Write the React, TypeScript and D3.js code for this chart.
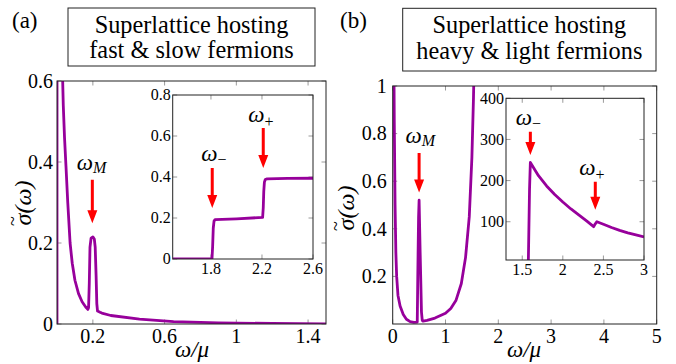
import React from "react";
import * as d3 from "d3";

// ---------- data ----------
// Panel (a) main curve
const aMainX = [0, 0.001, 0.015, 0.025, 0.03, 0.035, 0.042, 0.05, 0.06, 0.073, 0.085, 0.1, 0.12, 0.14, 0.16, 0.172, 0.176, 0.18, 0.184, 0.19, 0.2, 0.208, 0.213, 0.218, 0.222, 0.226, 0.24, 0.25, 0.3, 0.46, 0.65, 0.9, 1.2, 1.5];
const aMainY = [0, 4, 2.2, 0.9, 0.63, 0.54, 0.46, 0.39, 0.3, 0.2, 0.15, 0.108, 0.075, 0.055, 0.042, 0.036, 0.04, 0.1, 0.19, 0.212, 0.215, 0.21, 0.19, 0.12, 0.05, 0.032, 0.029, 0.027, 0.021, 0.012, 0.006, 0.003, 0.0012, 0.0005];
// Panel (a) inset curve
const aInsX = [1.5, 1.808, 1.813, 1.818, 1.824, 1.832, 2.0, 2.205, 2.21, 2.214, 2.219, 2.226, 2.24, 2.4, 2.6];
const aInsY = [0, 0, 0.06, 0.15, 0.185, 0.192, 0.196, 0.203, 0.25, 0.33, 0.375, 0.388, 0.391, 0.393, 0.394];
// Panel (b) main curve
const bMainX = [0.004, 0.02, 0.03, 0.045, 0.06, 0.075, 0.1, 0.14, 0.2, 0.26, 0.33, 0.4, 0.465, 0.475, 0.49, 0.5, 0.52, 0.545, 0.56, 0.575, 0.65, 0.8, 1.0, 1.1, 1.2, 1.3, 1.38, 1.45, 1.5, 1.53, 1.56];
const bMainY = [3, 1.2, 0.85, 0.5, 0.3, 0.2, 0.12, 0.076, 0.04, 0.02, 0.01, 0.007, 0.008, 0.2, 0.45, 0.52, 0.3, 0.05, 0.015, 0.012, 0.015, 0.025, 0.045, 0.065, 0.1, 0.17, 0.28, 0.45, 0.7, 0.95, 1.3];
// Panel (b) inset curve
const bInsX = [1.575, 1.58, 1.59, 1.6, 1.7, 1.8, 1.9, 2.0, 2.1, 2.2, 2.3, 2.38, 2.4, 2.42, 2.5, 2.6, 2.7, 2.8, 2.9, 3.0];
const bInsY = [0, 60, 180, 244, 212, 187, 166, 148, 131, 116, 101, 88, 95, 100, 94, 86, 79, 73, 68, 63];

// ticks
const aMainXTicks = [0.2, 0.6, 1, 1.4];
const aMainXLabels = ["0.2", "0.6", "1", "1.4"];
const aMainYTicks = [0, 0.2, 0.4, 0.6];
const aMainYLabels = ["0", "0.2", "0.4", "0.6"];
const aInsXTicks = [1.8, 2.2, 2.6];
const aInsXLabels = ["1.8", "2.2", "2.6"];
const aInsYTicks = [0, 0.2, 0.4, 0.6, 0.8];
const aInsYLabels = ["0", "0.2", "0.4", "0.6", "0.8"];
const bMainXTicks = [0, 1, 2, 3, 4, 5];
const bMainXLabels = ["0", "1", "2", "3", "4", "5"];
const bMainYTicks = [0.2, 0.4, 0.6, 0.8, 1];
const bMainYLabels = ["0.2", "0.4", "0.6", "0.8", "1"];
const bInsXTicks = [1.5, 2, 2.5, 3];
const bInsXLabels = ["1.5", "2", "2.5", "3"];
const bInsYTicks = [100, 200, 300, 400];
const bInsYLabels = ["100", "200", "300", "400"];

// titles
const titleA = ["Superlattice hosting", "fast & slow fermions"];
const titleB = ["Superlattice hosting", "heavy & light fermions"];

// arrows: [x, yTop, yTip] in data units
const aMainArrow = [0.197, 0.356, 0.249];
const aInsArrowMinus = [1.81, 0.444, 0.249];
const aInsArrowPlus = [2.21, 0.639, 0.444];
const bMainArrow = [0.5, 0.718, 0.552];
const bInsArrowMinus = [1.6, 319, 262];
const bInsArrowPlus = [2.4, 197, 129];

const PURPLE = "#97009b";
const FONT = "'Liberation Serif', 'Times New Roman', 'DejaVu Serif', serif";
const TICKC = "#9a9a9a";

type AxisProps = {
  id: string;
  x0: number; x1: number; y0: number; y1: number;
  xd: [number, number]; yd: [number, number];
  xs: number[]; ys: number[];
  xt: number[]; xl: string[]; yt: number[]; yl: string[];
  fs: number; xlDy: number; ylDx: number;
  bg?: boolean;
  children?: (x: d3.ScaleLinear<number, number>, y: d3.ScaleLinear<number, number>) => React.ReactNode;
};

const tf = (size: number, italic = false): React.CSSProperties => ({
  fontFamily: FONT,
  fontSize: size,
  fontStyle: italic ? "italic" : "normal",
});

function Axes(p: AxisProps) {
  const x = d3.scaleLinear().domain(p.xd).range([p.x0, p.x1]);
  const y = d3.scaleLinear().domain(p.yd).range([p.y1, p.y0]);
  const line = d3.line<number>().x((_, i) => x(p.xs[i])).y((d) => y(d));
  const tl = 4.5;
  return (
    <g>
      <defs>
        <clipPath id={p.id}>
          <rect x={p.x0} y={p.y0} width={p.x1 - p.x0} height={p.y1 - p.y0} />
        </clipPath>
      </defs>
      {p.bg && <rect x={p.x0} y={p.y0} width={p.x1 - p.x0} height={p.y1 - p.y0} fill="white" />}
      {p.xt.map((t, i) => (
        <g key={"x" + i}>
          <line x1={x(t)} x2={x(t)} y1={p.y1} y2={p.y1 - tl} stroke={TICKC} strokeWidth={1} />
          <line x1={x(t)} x2={x(t)} y1={p.y0} y2={p.y0 + tl} stroke={TICKC} strokeWidth={1} />
          <text x={x(t)} y={p.y1 + p.xlDy} style={tf(p.fs)} textAnchor="middle">{p.xl[i]}</text>
        </g>
      ))}
      {p.yt.map((t, i) => (
        <g key={"y" + i}>
          <line x1={p.x0} x2={p.x0 + tl} y1={y(t)} y2={y(t)} stroke={TICKC} strokeWidth={1} />
          <line x1={p.x1} x2={p.x1 - tl} y1={y(t)} y2={y(t)} stroke={TICKC} strokeWidth={1} />
          <text x={p.x0 - p.ylDx} y={y(t)} dy="0.34em" style={tf(p.fs)} textAnchor="end">{p.yl[i]}</text>
        </g>
      ))}
      <g clipPath={`url(#${p.id})`}>
        <path d={line(p.ys) || ""} fill="none" stroke={PURPLE} strokeWidth={2.8} strokeLinejoin="round" />
      </g>
      <rect x={p.x0} y={p.y0} width={p.x1 - p.x0} height={p.y1 - p.y0} fill="none" stroke="#222" strokeWidth={1} />
      {p.children && p.children(x, y)}
    </g>
  );
}

function Arrow({ cx, top, tip }: { cx: number; top: number; tip: number }) {
  const hl = 13, hw = 5, sw = 1.5;
  const d = `M${cx - sw},${top} L${cx + sw},${top} L${cx + sw},${tip - hl} L${cx + hw},${tip - hl} L${cx},${tip} L${cx - hw},${tip - hl} L${cx - sw},${tip - hl} Z`;
  return <path d={d} fill="#ff0000" />;
}

function Omega({ x, y, sub, subDy, fs = 23, sfs = 16 }: { x: number; y: number; sub: string; subDy: number; fs?: number; sfs?: number }) {
  return (
    <text x={x} y={y} style={tf(fs, true)}>
      ω<tspan dy={subDy} style={tf(sfs, sub === "M")}>{sub}</tspan>
    </text>
  );
}

function TitleBox({ x, y, w, h, lines, b1, b2 }: { x: number; y: number; w: number; h: number; lines: string[]; b1: number; b2: number }) {
  return (
    <g>
      <rect x={x} y={y} width={w} height={h} fill="white" stroke="#222" strokeWidth={1} />
      <text x={x + w / 2} y={b1} textAnchor="middle" style={tf(24.3)}>{lines[0]}</text>
      <text x={x + w / 2} y={b2} textAnchor="middle" style={tf(24.3)}>{lines[1]}</text>
    </g>
  );
}

function YLabel({ x, y }: { x: number; y: number }) {
  return (
    <g transform={`translate(${x},${y}) rotate(-90)`}>
      <text x={0} y={0} textAnchor="middle" style={tf(24, true)}>σ(ω)</text>
      <text x={-18} y={-12} textAnchor="middle" style={tf(18)}>~</text>
    </g>
  );
}

function XLabel({ x, y }: { x: number; y: number }) {
  return (
    <text x={x} y={y} textAnchor="middle" style={tf(23, true)}>ω/μ</text>
  );
}

export default function App() {
  return (
    <svg width={676} height={364} style={{ position: "absolute", left: 0, top: 0, background: "white" }}>
      <rect x={0} y={0} width={676} height={364} fill="white" />
      {/* Panel (a) */}
      <text x={12} y={28} style={tf(23)}>(a)</text>
      <TitleBox x={68} y={8} w={247} h={58} lines={titleA} b1={33} b2={58} />
      <Axes id="ca" x0={57} x1={326} y0={81} y1={324} xd={[0, 1.5]} yd={[0, 0.6]} xs={aMainX} ys={aMainY}
        xt={aMainXTicks} xl={aMainXLabels} yt={aMainYTicks} yl={aMainYLabels} fs={20} xlDy={19} ylDx={4}>
        {(x, y) => (
          <g>
            <Arrow cx={x(aMainArrow[0])} top={y(aMainArrow[1])} tip={y(aMainArrow[2])} />
            <Omega x={x(aMainArrow[0]) - 15.5} y={y(aMainArrow[1]) - 10} sub="M" subDy={3} />
          </g>
        )}
      </Axes>
      <Axes id="cai" x0={172.7} x1={313} y0={95} y1={259} xd={[1.5, 2.6]} yd={[0, 0.8]} xs={aInsX} ys={aInsY}
        xt={aInsXTicks} xl={aInsXLabels} yt={aInsYTicks} yl={aInsYLabels} fs={16} xlDy={14.5} ylDx={2} bg>
        {(x, y) => (
          <g>
            <Arrow cx={x(aInsArrowMinus[0])} top={y(aInsArrowMinus[1])} tip={y(aInsArrowMinus[2])} />
            <Omega x={x(aInsArrowMinus[0]) - 11} y={y(aInsArrowMinus[1]) - 6.5} sub="−" subDy={4} />
            <Arrow cx={x(aInsArrowPlus[0])} top={y(aInsArrowPlus[1])} tip={y(aInsArrowPlus[2])} />
            <Omega x={x(aInsArrowPlus[0]) - 15} y={y(aInsArrowPlus[1]) - 6.5} sub="+" subDy={5} />
          </g>
        )}
      </Axes>
      <YLabel x={31} y={203} />
      <XLabel x={192} y={357} />

      {/* Panel (b) */}
      <text x={340} y={28} style={tf(23)}>(b)</text>
      <TitleBox x={402.7} y={8.3} w={253.3} h={62.7} lines={titleB} b1={32.5} b2={58.5} />
      <Axes id="cb" x0={392.7} x1={656.7} y0={86} y1={324} xd={[0, 5]} yd={[0, 1]} xs={bMainX} ys={bMainY}
        xt={bMainXTicks} xl={bMainXLabels} yt={bMainYTicks} yl={bMainYLabels} fs={20} xlDy={19} ylDx={6}>
        {(x, y) => (
          <g>
            <Arrow cx={x(bMainArrow[0])} top={y(bMainArrow[1])} tip={y(bMainArrow[2])} />
            <Omega x={x(bMainArrow[0]) - 13.5} y={y(bMainArrow[1]) - 10} sub="M" subDy={3} />
          </g>
        )}
      </Axes>
      <Axes id="cbi" x0={506} x1={644} y0={98.3} y1={260} xd={[1.3, 3]} yd={[7, 400]} xs={bInsX} ys={bInsY}
        xt={bInsXTicks} xl={bInsXLabels} yt={bInsYTicks} yl={bInsYLabels} fs={16} xlDy={14.5} ylDx={2} bg>
        {(x, y) => (
          <g>
            <Arrow cx={x(bInsArrowMinus[0])} top={y(bInsArrowMinus[1])} tip={y(bInsArrowMinus[2])} />
            <Omega x={x(bInsArrowMinus[0]) - 14.5} y={y(bInsArrowMinus[1]) - 6.5} sub="−" subDy={4} />
            <Arrow cx={x(bInsArrowPlus[0])} top={y(bInsArrowPlus[1])} tip={y(bInsArrowPlus[2])} />
            <Omega x={x(bInsArrowPlus[0]) - 16} y={y(bInsArrowPlus[1]) - 6.5} sub="+" subDy={5} />
          </g>
        )}
      </Axes>
      <YLabel x={354} y={208} />
      <XLabel x={524} y={357} />
    </svg>
  );
}
